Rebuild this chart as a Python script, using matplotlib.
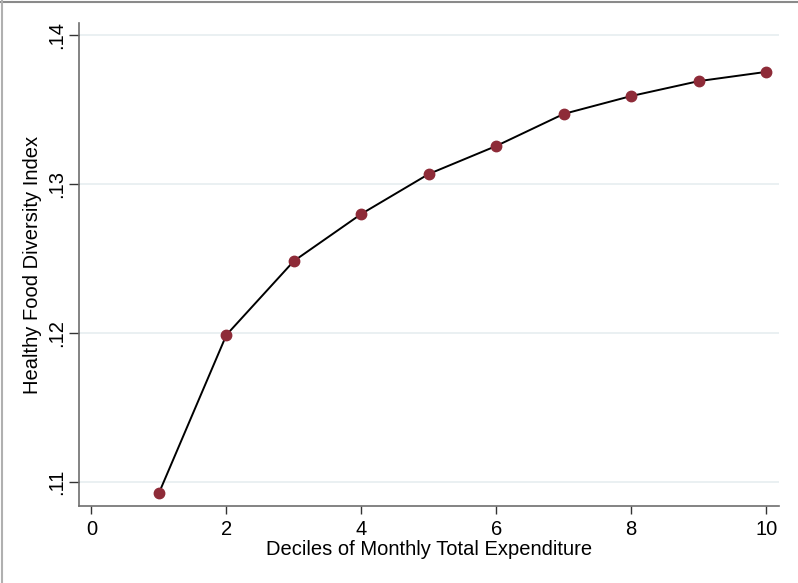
import matplotlib
matplotlib.use("Agg")
import matplotlib.pyplot as plt
from matplotlib.lines import Line2D

deciles = [1, 2, 3, 4, 5, 6, 7, 8, 9, 10]
hfdi = [0.10926, 0.11987, 0.12483, 0.12799, 0.13067, 0.13255, 0.13470, 0.13590, 0.13690, 0.13752]
xticks = [0, 2, 4, 6, 8, 10]
yticks = [0.11, 0.12, 0.13, 0.14]
ytick_labels = [".11", ".12", ".13", ".14"]

plt.rcParams['font.family'] = ['Liberation Sans', 'DejaVu Sans']

W, H = 798, 583
fig = plt.figure(figsize=(W / 100, H / 100), dpi=100)
ax = fig.add_axes([79 / W, (H - 506) / H, (779 - 79) / W, (506 - 23) / H])

ax.plot(deciles, hfdi, color='black', lw=1.4, zorder=3)
ax.plot(deciles, hfdi, 'o', color='#8E2B38', ms=7.5, mec='#8E2B38', zorder=4)

ax.set_xlim(-0.185, 10.19)
ax.set_ylim(0.10839, 0.1408)
ax.set_xticks(xticks)
ax.set_yticks(yticks)
ax.set_yticklabels(ytick_labels, rotation=90, va='center')
ax.grid(axis='y', color='#EAF0F2', lw=1.4, zorder=0)
ax.set_axisbelow(True)
for s in ['top', 'right']:
    ax.spines[s].set_visible(False)
for s in ['left', 'bottom']:
    ax.spines[s].set_color('#6E6E6E')
    ax.spines[s].set_linewidth(1.2)
ax.tick_params(axis='both', length=6, width=1, color='#333333', labelsize=14.5, pad=4)
ax.tick_params(axis='y', length=7.5, pad=2)
ax.set_xlabel('Deciles of Monthly Total Expenditure', fontsize=14.5, labelpad=1)
ax.set_ylabel('Healthy Food Diversity Index', fontsize=14.5, va='center')
ax.yaxis.set_label_coords((33 - 79) / 700, 0.5)

fig.add_artist(Line2D([0, 1], [1 - 2 / H, 1 - 2 / H], transform=fig.transFigure, color='#8A8A8A', lw=1.5))
fig.add_artist(Line2D([1.5 / W, 1.5 / W], [0, 1], transform=fig.transFigure, color='#B0B0B0', lw=1.5))

fig.savefig('out.png', dpi=100)
